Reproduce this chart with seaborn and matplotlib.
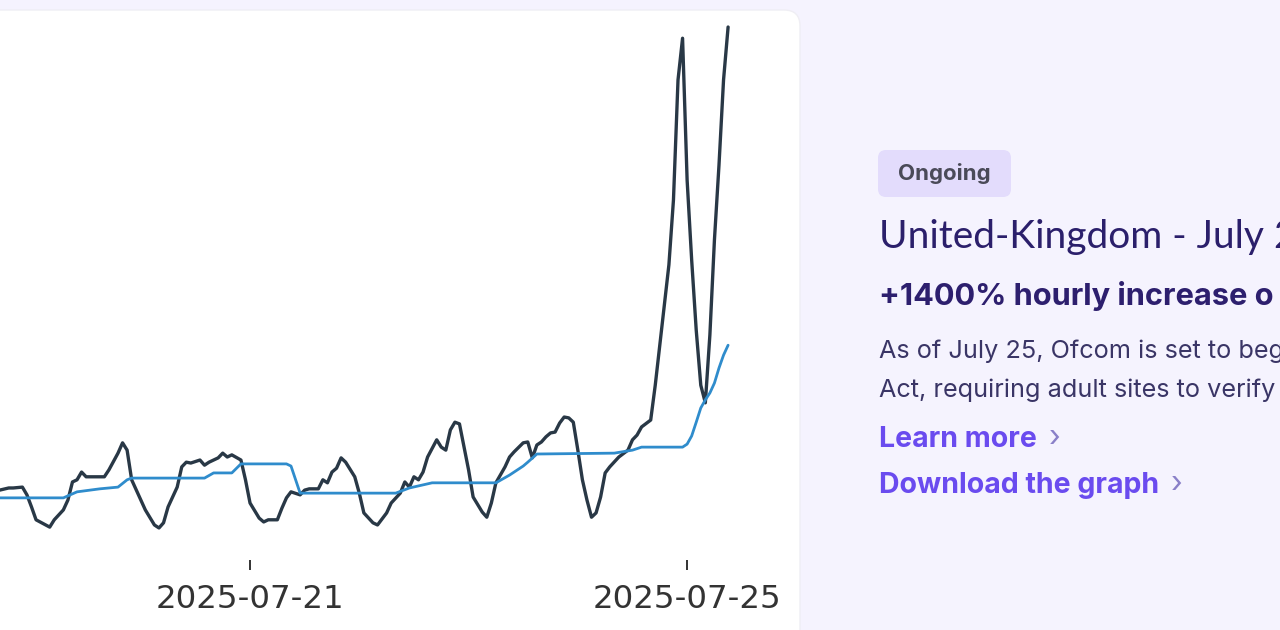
import numpy as np
import pandas as pd
import seaborn as sns
import matplotlib
matplotlib.use("Agg")
import matplotlib.pyplot as plt
import matplotlib.dates as mdates
from matplotlib.patches import FancyBboxPatch
from matplotlib.transforms import IdentityTransform

# hourly traffic (hours relative to 2025-07-21 00:00)
traffic_hours = [-55, -53, -52, -50, -49, -48, -47, -44, -43, -41, -40, -39, -38, -37, -36, -34, -32, -31,
                 -29, -28, -27, -26, -24, -23, -21, -20, -19, -18, -16, -15, -14, -13, -11, -10, -9, -7,
                 -6, -5, -4, -2, -1, 0, 2, 3, 4, 6, 7, 8, 9, 11, 12, 13, 15, 16, 17, 18, 19, 20, 21, 23,
                 24, 25, 27, 28, 30, 31, 33, 34, 35, 36, 37, 38, 39, 41, 42, 43, 44, 45, 46, 47, 48, 49,
                 51, 52, 53, 54, 56, 57, 58, 60, 61, 62, 63, 64, 65, 66, 67, 68, 69, 70, 71, 72, 73, 74,
                 75, 76, 77, 78, 79, 81, 83, 84, 85, 86, 88, 89, 90, 91, 92, 93, 94, 95, 96, 97, 98, 99,
                 100, 101, 102, 103, 104, 105]
traffic_values = [116, 121, 121, 123, 105, 77, 47, 30, 47, 70, 93, 135, 140, 158, 147, 147, 147, 163,
                  202, 226, 209, 140, 93, 70, 35, 28, 40, 77, 123, 170, 181, 179, 186, 174, 181, 191,
                  202, 193, 198, 186, 140, 86, 51, 42, 47, 47, 74, 98, 112, 105, 116, 119, 119, 140, 133, 158, 167, 191, 181, 147,
                  109, 63, 40, 35, 63, 86, 109, 135, 123, 147, 140, 158, 193, 233, 216, 209, 256, 274, 270, 216, 163, 100,
                  65, 53, 86, 133, 170, 193, 205, 226, 228, 191, 221, 228, 240, 249, 251, 272, 286, 284, 274, 209, 140, 93,
                  53, 63, 100, 156, 170, 193, 209, 233, 244, 263, 279, 360, 453, 547, 640, 791, 1070, 1167, 837, 651, 488, 360,
                  319, 477, 698, 872, 1070, 1193]

# baseline (blue line)
baseline_hours = [-55, -41, -38, -33, -29, -27, -26, -10, -8, -4, -2, 8, 9, 11, 32, 35, 40, 54, 57, 60, 61, 63,
                  80, 84, 86, 95, 96, 97, 98, 99, 100, 101, 102, 103, 104, 105]
baseline_values = [98, 98, 112, 119, 123, 140, 144, 144, 156, 156, 177, 177, 172, 109, 109, 121, 133, 133, 151,
                   172, 181, 200, 202, 209, 216, 216, 223, 242, 274, 307, 326, 342, 365, 400, 430, 453]

tick_days = ["2025-07-21", "2025-07-25"]

# the card is cut at the right edge of the screenshot, keep what is visible
badge_text = "Ongoing"
title_text = "United-Kingdom - July 2"
headline_text = "+1400% hourly increase o"
body_lines = ["As of July 25, Ofcom is set to beg",
              "Act, requiring adult sites to verify"]
link_texts = ["Learn more", "Download the graph"]

t0 = pd.Timestamp("2025-07-21")
traffic = pd.DataFrame({"time": t0 + pd.to_timedelta(traffic_hours, unit="h"), "value": traffic_values})
baseline = pd.DataFrame({"time": t0 + pd.to_timedelta(baseline_hours, unit="h"), "value": baseline_values})

sns.set_theme(style="white")
plt.rcParams["font.family"] = ["DejaVu Sans"]

W, H = 1280, 630
fig = plt.figure(figsize=(W / 100, H / 100), dpi=100)
fig.patch.set_facecolor("#f5f3fe")

# white card behind the chart
card = FancyBboxPatch((-40, -40), 840, H - 10 + 40, boxstyle="round,pad=0,rounding_size=16",
                      transform=IdentityTransform(), facecolor="white", edgecolor="#efeef4", lw=1,
                      zorder=-10)
fig.add_artist(card)

ax = fig.add_axes([0, 70 / H, 780 / W, 550 / H])
ax.patch.set_alpha(0)
sns.lineplot(data=traffic, x="time", y="value", ax=ax, color="#293846", lw=2.4)
sns.lineplot(data=baseline, x="time", y="value", ax=ax, color="#2f8ccc", lw=2.0)

ax.set_xlim(pd.Timestamp("2025-07-18 17:05"), pd.Timestamp("2025-07-25 20:24"))
ax.set_ylim(-46.5, 1232.6)
ax.set_xticks([pd.Timestamp(d) for d in tick_days])
ax.xaxis.set_major_formatter(mdates.DateFormatter("%Y-%m-%d"))
ax.set_yticks([])
ax.set_xlabel("")
ax.set_ylabel("")
for s in ax.spines.values():
    s.set_visible(False)
ax.tick_params(axis="x", bottom=True, length=7, width=1.4, color="#333333", pad=10,
               labelsize=23.4, labelcolor="#333333")

# right hand text block
def px(x, y):
    return x / W, 1 - y / H

badge = FancyBboxPatch((878, H - 197), 133, 47, boxstyle="round,pad=0,rounding_size=8",
                       transform=IdentityTransform(), facecolor="#e3dcfc", edgecolor="none")
fig.add_artist(badge)
fig.text(*px(944.5, 174), badge_text, ha="center", va="center", fontsize=16, fontweight="bold",
         color="#4a4a58", family=["Inter", "DejaVu Sans"])
fig.text(*px(879, 248), title_text, ha="left", va="baseline", fontsize=28, color="#2b1f6b",
         family=["Lato", "DejaVu Sans"])
fig.text(*px(879, 305), headline_text, ha="left", va="baseline", fontsize=22.2, fontweight="bold",
         color="#2d1f6e", family=["Inter", "DejaVu Sans"])
for i, line in enumerate(body_lines):
    fig.text(*px(879, 358 + 39 * i), line, ha="left", va="baseline", fontsize=18.2,
             color="#3a3566", family=["Inter", "DejaVu Sans"])
for i, link in enumerate(link_texts):
    t = fig.text(*px(879, 447 + 46 * i), link, ha="left", va="baseline", fontsize=20.5,
                 fontweight="bold", color="#6a4bef", family=["Inter", "DejaVu Sans"])
    fig.canvas.draw()
    bb = t.get_window_extent()
    fig.text((bb.x1 + 12) / W, 1 - (447 + 46 * i) / H, "\u203a", ha="left", va="baseline",
             fontsize=22, color="#8a80c8", family=["Inter", "DejaVu Sans"])

fig.savefig("out.png", dpi=100)
